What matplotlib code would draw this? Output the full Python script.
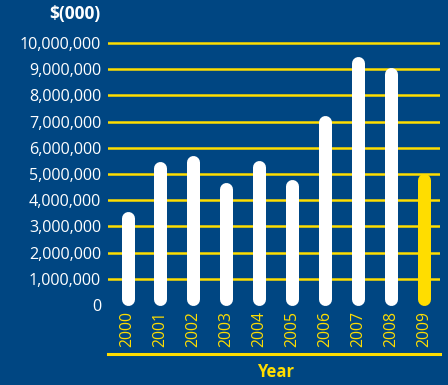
import numpy as np
from matplotlib import pyplot as plt

years = ['2000', '2001', '2002', '2003', '2004', '2005', '2006', '2007', '2008', '2009']
values = [3550000, 5460000, 5690000, 4660000, 5500000, 4800000, 7250000, 9470000, 9050000, 5000000]
bar_colors = ['white'] * 9 + ['#FFDD00']
yticks = list(range(0, 11000000, 1000000))

bg = '#004682'
yellow = '#FFDD00'
plt.rcParams['font.family'] = ['Open Sans', 'DejaVu Sans']

fig = plt.figure(figsize=(4.48, 3.85), dpi=100, facecolor=bg)
ax = fig.add_axes([108 / 448, 31 / 385, (440 - 108) / 448, (354 - 35) / 385])
ax.set_facecolor(bg)

px_per_unit = 26.2 / 1e6
ax.set_ylim(-(354 - 305) / px_per_unit, (305 - 35) / px_per_unit)
ax.set_xlim(-0.592, 9.487)

# yellow grid lines (no line at zero)
for t in yticks[1:]:
    ax.axhline(t, color=yellow, lw=1.8, zorder=1)

# rounded bars: round caps stick out by half the width, so pull the ends in
r = 6.5 / px_per_unit
x = np.arange(len(years))
for xi, v, c in zip(x, values, bar_colors):
    ax.plot([xi, xi], [r, v - r], color=c, lw=13 * 0.72, solid_capstyle='round', zorder=3)

for xi, y in zip(x, years):
    ax.text(xi, -6 / px_per_unit, y, rotation=90, ha='center', va='top',
            color=yellow, fontsize=11.3)

ax.set_yticks(yticks)
ax.set_yticklabels([f'{t:,}' for t in yticks], color='white', fontsize=11.6)
ax.tick_params(axis='y', length=0, pad=5)
ax.set_xticks([])

for s in ['top', 'left', 'right']:
    ax.spines[s].set_visible(False)
ax.spines['bottom'].set_color(yellow)
ax.spines['bottom'].set_linewidth(2.2)

fig.text(100 / 448, 1 - 14 / 385, '$(000)', ha='right', va='center', color='white',
         fontsize=12.5, fontweight='bold')
fig.text(276 / 448, 1 - 372 / 385, 'Year', ha='center', va='center', color=yellow,
         fontsize=12, fontweight='bold')

fig.savefig('out.png', dpi=100, facecolor=bg)
